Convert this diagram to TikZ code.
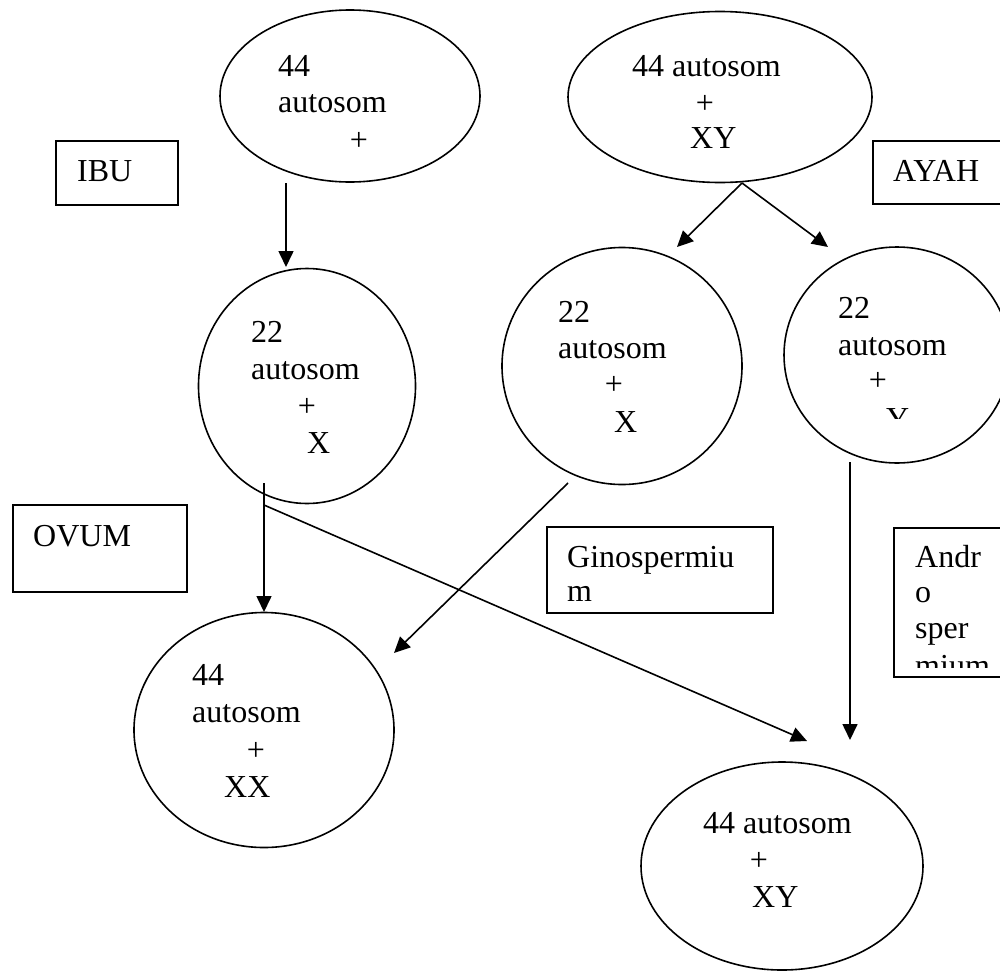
\documentclass[tikz,border=0pt]{standalone}
\usepackage{fontspec}
\setmainfont{Liberation Serif}
\usetikzlibrary{shapes.geometric,arrows.meta}
\begin{document}
\begin{tikzpicture}[x=1pt,y=-1pt,
  cell/.style={draw, ellipse, line width=1.6pt, inner sep=0pt},
  lbox/.style={draw, rectangle, line width=1.6pt, inner sep=0pt, anchor=north west},
  txt/.style={anchor=base west, inner sep=0pt, font=\fontsize{32}{37}\selectfont},
  plus/.style={anchor=base, inner sep=0pt, font=\fontsize{32}{37}\selectfont},
  arr/.style={line width=1.6pt, -{Triangle[length=16pt,width=15pt]}},
  ln/.style={line width=1.6pt}]
\path[use as bounding box, clip] (0,0) rectangle (1000,972);
\fill[white] (0,0) rectangle (1000,972);

% cells
\node[cell, minimum width=260pt, minimum height=172pt] (ibuCell) at (350,96) {};
\node[cell, minimum width=304pt, minimum height=171pt] (ayahCell) at (720,97) {};
\node[cell, minimum width=217pt, minimum height=235pt] (ovum) at (307,386) {};
\node[cell, minimum width=240pt, minimum height=237pt] (gino) at (622,366) {};
\node[cell, minimum width=226pt, minimum height=216pt] (andro) at (897,355) {};
\node[cell, minimum width=260pt, minimum height=235pt] (girl) at (264,730) {};
\node[cell, minimum width=282pt, minimum height=208pt] (boy) at (782,866) {};

% label boxes
\node[lbox, minimum width=122pt, minimum height=64pt] (ibuBox) at (55,140) {};
\node[txt] (ibuT) at (77,181) {IBU};
\node[lbox, minimum width=160pt, minimum height=63pt] (ayahBox) at (872,140) {};
\node[txt] (ayahT) at (893,181) {AYAH};
\node[lbox, minimum width=174pt, minimum height=87pt] (ovumBox) at (12,504) {};
\node[txt] (ovumT) at (33,546) {OVUM};
\node[lbox, minimum width=226pt, minimum height=86pt] (ginoBox) at (546,526) {};
\node[txt] (ginoT1) at (567,567) {Ginospermiu};
\node[txt] (ginoT2) at (567,601) {m};
\node[lbox, minimum width=150pt, minimum height=149pt] (andrBox) at (893,527) {};
\node[txt] (andrT1) at (915,567) {Andr};
\node[txt] (andrT2) at (915,602) {o};
\node[txt] (andrT3) at (915,638) {sper};
\begin{scope}
  \clip (893,527) rectangle (1000,667);
  \node[txt] (andrT4) at (915,676) {mium};
\end{scope}

% texts in cells
\node[txt] (e1a) at (278,76) {44};
\node[txt] (e1b) at (278,112) {autosom};
\node[plus] (e1c) at (359,150) {+};

\node[txt] (e2a) at (632,76) {44 autosom};
\node[plus] (e2b) at (705,113) {+};
\node[txt] (e2c) at (690,148) {XY};

\node[txt] (c1a) at (251,342) {22};
\node[txt] (c1b) at (251,379) {autosom};
\node[plus] (c1c) at (307,416) {+};
\node[txt] (c1d) at (307,453) {X};

\node[txt] (c2a) at (558,322) {22};
\node[txt] (c2b) at (558,358) {autosom};
\node[plus] (c2c) at (614,394) {+};
\node[txt] (c2d) at (614,432) {X};

\node[txt] (c3a) at (838,318) {22};
\node[txt] (c3b) at (838,355) {autosom};
\node[plus] (c3c) at (878,390) {+};
\begin{scope}
  \clip (800,300) rectangle (1000,418);
  \node[txt] (c3d) at (886,429) {Y};
\end{scope}

\node[txt] (c4a) at (192,685) {44};
\node[txt] (c4b) at (192,722) {autosom};
\node[plus] (c4c) at (256,760) {+};
\node[txt] (c4d) at (224,797) {XX};

\node[txt] (e3a) at (703,833) {44 autosom};
\node[plus] (e3b) at (759,870) {+};
\node[txt] (e3c) at (752,907) {XY};

% connector end points
\coordinate (p1s) at (286,183);  \coordinate (p1e) at (286,267);
\coordinate (p2s) at (742,183);  \coordinate (p2e) at (677,247);
\coordinate (p3e) at (828,247);
\coordinate (p4s) at (264,483);  \coordinate (p4e) at (264,612);
\coordinate (p5s) at (264,505);  \coordinate (p5e) at (807,741);
\coordinate (p6s) at (568,483);  \coordinate (p6e) at (394,653);
\coordinate (p7s) at (850,462);  \coordinate (p7e) at (850,740);

\draw[arr] (p1s) -- (p1e);
\draw[arr] (p2s) -- (p2e);
\draw[arr] (p2s) -- (p3e);
\draw[arr] (p4s) -- (p4e);
\draw[arr] (p5s) -- (p5e);
\draw[arr] (p6s) -- (p6e);
\draw[arr] (p7s) -- (p7e);
\end{tikzpicture}
\end{document}
